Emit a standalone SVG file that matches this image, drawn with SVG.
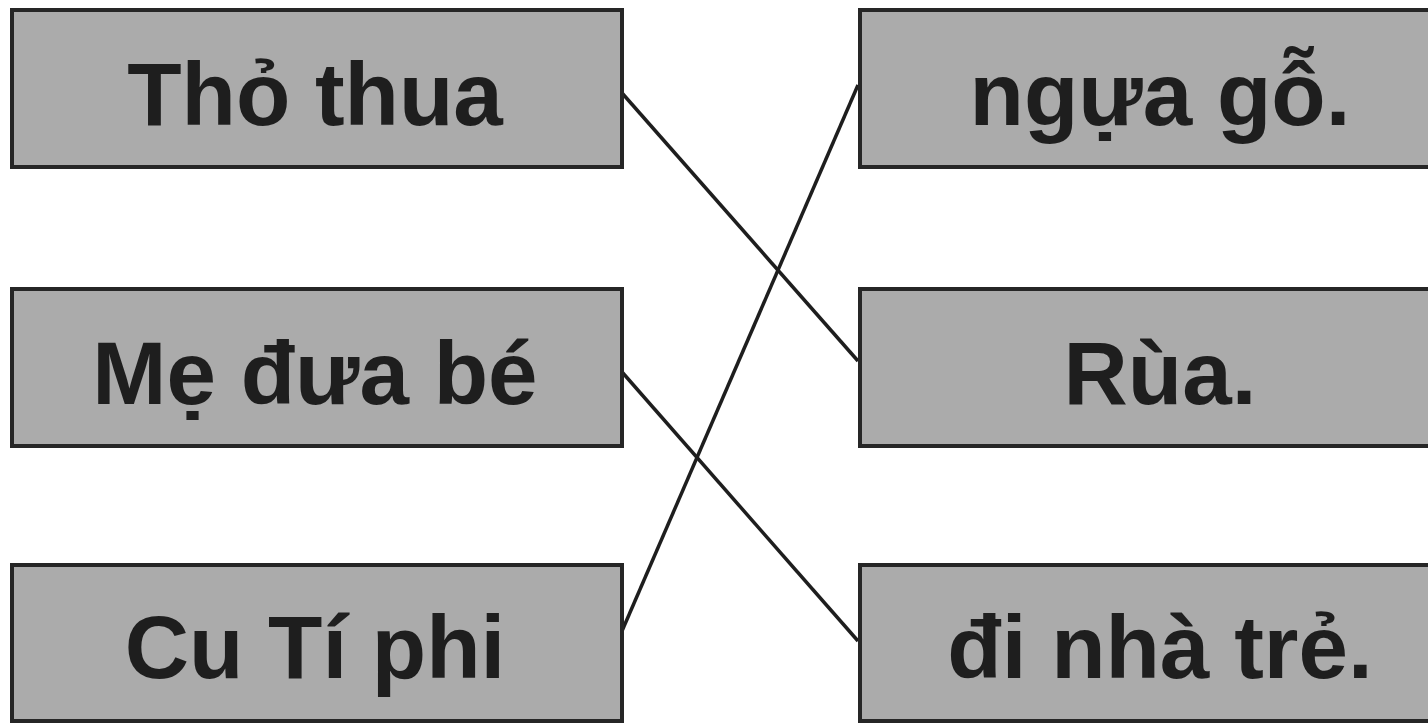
<svg xmlns="http://www.w3.org/2000/svg" width="1428" height="726" viewBox="0 0 1428 726">
<style>
.box{fill:#ababab;stroke:#262626;stroke-width:4}
.lbl{font-family:"Liberation Sans",Arial,sans-serif;font-weight:bold;font-size:89px;fill:#1e1e1e;text-anchor:middle}
.conn{stroke:#1e1e1e;stroke-width:3.5;fill:none}
</style>
<rect width="1428" height="726" fill="#ffffff"/>
<g id="connectors">
<line class="conn" x1="622" y1="93" x2="858" y2="361"/>
<line class="conn" x1="622" y1="372" x2="858" y2="641"/>
<line class="conn" x1="622" y1="631" x2="858" y2="85"/>
</g>
<g id="n-tho-thua"><rect class="box" x="12" y="10" width="610" height="157"/><text class="lbl" x="315" y="125">Thỏ thua</text></g>
<g id="n-me-dua-be"><rect class="box" x="12" y="289" width="610" height="157"/><text class="lbl" x="315" y="404">Mẹ đưa bé</text></g>
<g id="n-cu-ti-phi"><rect class="box" x="12" y="565" width="610" height="156"/><text class="lbl" x="315" y="678">Cu Tí phi</text></g>
<g id="n-ngua-go"><rect class="box" x="860" y="10" width="610" height="157"/><text class="lbl" x="1160" y="125">ngựa gỗ.</text></g>
<g id="n-rua"><rect class="box" x="860" y="289" width="610" height="157"/><text class="lbl" x="1160" y="404">Rùa.</text></g>
<g id="n-di-nha-tre"><rect class="box" x="860" y="565" width="610" height="156"/><text class="lbl" x="1160" y="678">đi nhà trẻ.</text></g>
</svg>
